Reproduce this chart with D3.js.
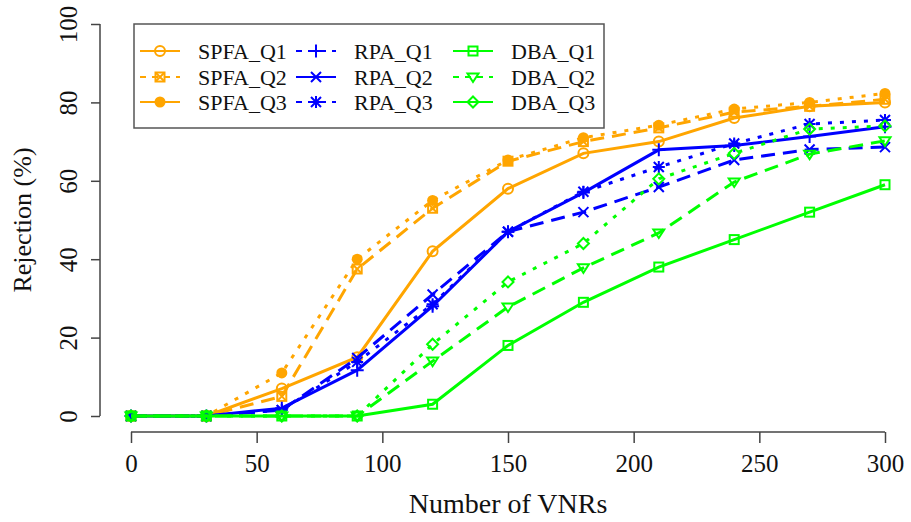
<!DOCTYPE html>
<html>
<head>
<meta charset="utf-8">
<script src="https://cdn.jsdelivr.net/npm/d3@7"></script>
<style>
  html, body { margin: 0; padding: 0; background: #fff; }
  svg { display: block; font-family: "Liberation Serif", "DejaVu Serif", serif; }
</style>
</head>
<body>
<div id="chart"></div>
<script>
// data
const vnrs = [0, 30, 60, 90, 120, 150, 180, 210, 240, 270, 300];
const xTicks = [0, 50, 100, 150, 200, 250, 300];
const yTicks = [0, 20, 40, 60, 80, 100];

const spfaQ1 = [0, 0, 7, 15, 42, 58, 67, 70, 76, 79, 80];
const spfaQ2 = [0, 0, 5, 37.5, 53, 65, 70, 73.5, 77.5, 79, 80.8];
const spfaQ3 = [0, 0, 11, 40, 55, 65.3, 71, 74.2, 78.3, 80, 82.3];
const rpaQ1 = [0, 0, 2, 11.7, 28, 47, 57, 67.9, 69, 71.3, 73.8];
const rpaQ2 = [0, 0, 1.5, 14.8, 31, 47, 52, 58.4, 65.3, 68, 68.6];
const rpaQ3 = [0, 0, 1.5, 13.8, 28.5, 47, 57.2, 63.5, 69.5, 74.5, 75.5];
const dbaQ1 = [0, 0, 0, 0, 3, 18, 29, 38, 45, 52, 59];
const dbaQ2 = [0, 0, 0, 0, 14, 27.8, 37.8, 46.7, 59.7, 66.8, 70.2];
const dbaQ3 = [0, 0, 0, 0, 18.3, 34.2, 44, 60.5, 67, 73.2, 74];

const ORANGE = '#ffa500', BLUE = '#0000ff', GREEN = '#00ff00';
const SOLID = null, DASHED = '14,8', DOTTED = '4,8';

// plot styles: Q1 solid, Q2 dashed, Q3 dotted; legend keeps its own dash
const series = [
  { name: 'SPFA_Q1', values: spfaQ1, color: ORANGE, dash: SOLID,  legendDash: SOLID,  marker: 'circle' },
  { name: 'SPFA_Q2', values: spfaQ2, color: ORANGE, dash: DASHED, legendDash: '6,6',  marker: 'boxx' },
  { name: 'SPFA_Q3', values: spfaQ3, color: ORANGE, dash: DOTTED, legendDash: SOLID,  marker: 'dot' },
  { name: 'RPA_Q1',  values: rpaQ1,  color: BLUE,   dash: SOLID,  legendDash: '6,6',  marker: 'plus' },
  { name: 'RPA_Q2',  values: rpaQ2,  color: BLUE,   dash: DASHED, legendDash: SOLID,  marker: 'times' },
  { name: 'RPA_Q3',  values: rpaQ3,  color: BLUE,   dash: DOTTED, legendDash: '6,6',  marker: 'star' },
  { name: 'DBA_Q1',  values: dbaQ1,  color: GREEN,  dash: SOLID,  legendDash: SOLID,  marker: 'square' },
  { name: 'DBA_Q2',  values: dbaQ2,  color: GREEN,  dash: DASHED, legendDash: '6,6',  marker: 'tridown' },
  { name: 'DBA_Q3',  values: dbaQ3,  color: GREEN,  dash: DOTTED, legendDash: SOLID,  marker: 'diamond' }
];

const width = 911, height = 522;
const x = d3.scaleLinear().domain([0, 300]).range([131, 885]);
const y = d3.scaleLinear().domain([0, 100]).range([416, 24]);

const svg = d3.select('#chart').append('svg')
  .attr('width', width)
  .attr('height', height);

// draw an R-style plotting symbol centred on (cx, cy)
function drawMarker(g, type, cx, cy, color) {
  const s = g.append('g').attr('transform', `translate(${cx},${cy})`)
    .attr('stroke', color).attr('stroke-width', 2).attr('fill', 'none');
  const r = 5;
  switch (type) {
    case 'circle':
      s.append('circle').attr('r', r); break;
    case 'dot':
      s.append('circle').attr('r', r + 0.5).attr('fill', color).attr('stroke', 'none'); break;
    case 'boxx':
      s.append('rect').attr('x', -r + 0.5).attr('y', -r + 0.5).attr('width', 2 * r - 1).attr('height', 2 * r - 1);
      s.append('path').attr('d', `M${-r + 1},${-r + 1}L${r - 1},${r - 1}M${-r + 1},${r - 1}L${r - 1},${-r + 1}`); break;
    case 'plus':
      s.append('path').attr('d', `M${-r - 1.5},0H${r + 1.5}M0,${-r - 1.5}V${r + 1.5}`); break;
    case 'times':
      s.append('path').attr('d', `M${-r},${-r}L${r},${r}M${-r},${r}L${r},${-r}`); break;
    case 'star':
      s.append('path').attr('d', `M${-r - 1},0H${r + 1}M0,${-r - 1}V${r + 1}M${-r},${-r}L${r},${r}M${-r},${r}L${r},${-r}`); break;
    case 'square':
      s.append('rect').attr('x', -r + 0.5).attr('y', -r + 0.5).attr('width', 2 * r - 1).attr('height', 2 * r - 1); break;
    case 'tridown':
      s.append('path').attr('d', `M${-r - 0.5},${-r + 1.5}H${r + 0.5}L0,${r}Z`); break;
    case 'diamond':
      s.append('path').attr('d', `M0,${-r - 0.5}L${r + 0.5},0L0,${r + 0.5}L${-r - 0.5},0Z`); break;
  }
}

// axes
const axisColor = '#444';
const xAxis = svg.append('g')
  .attr('transform', 'translate(0,432)')
  .call(d3.axisBottom(x).tickValues(xTicks).tickSize(11).tickFormat(d3.format('d')));
const yAxis = svg.append('g')
  .attr('transform', 'translate(100,0)')
  .call(d3.axisLeft(y).tickValues(yTicks).tickSize(9).tickFormat(d3.format('d')));

[xAxis, yAxis].forEach(a => {
  a.attr('font-family', null).attr('font-size', null);
  a.select('.domain').attr('stroke', axisColor).attr('stroke-width', 1.5);
  a.selectAll('.tick line').attr('stroke', axisColor).attr('stroke-width', 1.5);
  a.selectAll('text').attr('fill', '#111').style('font-size', '25px');
});
// axis lines span first to last tick only
xAxis.select('.domain').attr('d', `M${x(0)},0H${x(300)}`);
yAxis.select('.domain').attr('d', `M0,${y(0)}V${y(100)}`);
xAxis.selectAll('text').attr('dy', null).attr('y', 40);
// y labels are vertical as in R (las = 0)
yAxis.selectAll('.tick text')
  .attr('x', null).attr('dy', null)
  .attr('text-anchor', 'middle')
  .attr('transform', 'translate(-23,0) rotate(-90)');

svg.append('text')
  .attr('x', 508).attr('y', 513)
  .attr('text-anchor', 'middle')
  .attr('fill', '#111')
  .style('font-size', '28px')
  .text('Number of VNRs');

svg.append('text')
  .attr('transform', 'translate(31,220) rotate(-90)')
  .attr('text-anchor', 'middle')
  .attr('fill', '#111')
  .style('font-size', '26px')
  .text('Rejection (%)');

// lines and markers
const line = d3.line().x((d, i) => x(vnrs[i])).y(d => y(d));
const plot = svg.append('g');
series.forEach(s => {
  plot.append('path')
    .datum(s.values)
    .attr('d', line)
    .attr('fill', 'none')
    .attr('stroke', s.color)
    .attr('stroke-width', 3)
    .attr('stroke-dasharray', s.dash);
  s.values.forEach((v, i) => drawMarker(plot, s.marker, x(vnrs[i]), y(v), s.color));
});

// legend
const legend = svg.append('g');
legend.append('rect')
  .attr('x', 134).attr('y', 24).attr('width', 470).attr('height', 104)
  .attr('fill', '#fff').attr('stroke', '#555').attr('stroke-width', 1.5);
const colX = [140, 296, 453];
const rowY = [51, 77, 102];
series.forEach((s, i) => {
  const lx = colX[Math.floor(i / 3)], ly = rowY[i % 3];
  legend.append('line')
    .attr('x1', lx).attr('x2', lx + 40).attr('y1', ly).attr('y2', ly)
    .attr('stroke', s.color).attr('stroke-width', 2)
    .attr('stroke-dasharray', s.legendDash);
  drawMarker(legend, s.marker, lx + 20, ly, s.color);
  legend.append('text')
    .attr('x', lx + 58).attr('y', ly + 8)
    .attr('fill', '#111')
    .style('font-size', '22px')
    .text(s.name);
});
</script>
</body>
</html>
